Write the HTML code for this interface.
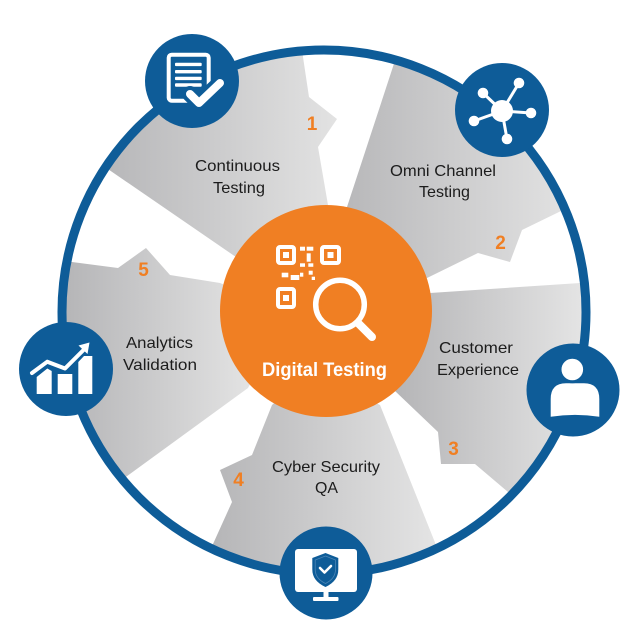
<!DOCTYPE html>
<html>
<head>
<meta charset="utf-8">
<style>
  html,body{margin:0;padding:0;background:#fff;}
  svg{display:block;}
  .lbl{font-family:"Liberation Sans",sans-serif;font-size:16px;fill:#1c1c1c;}
  .num{font-family:"Liberation Sans",sans-serif;font-size:19px;font-weight:bold;fill:#f07f23;}
</style>
</head>
<body>
<svg width="639" height="644" viewBox="0 0 639 644" xmlns="http://www.w3.org/2000/svg">
  <defs>
    <clipPath id="ringclip"><circle cx="324" cy="312" r="262"/></clipPath>
    <linearGradient id="g1" gradientUnits="userSpaceOnUse" x1="100" y1="0" x2="335" y2="0">
      <stop offset="0" stop-color="#b6b6b8"/><stop offset="1" stop-color="#e2e2e2"/>
    </linearGradient>
    <linearGradient id="g2" gradientUnits="userSpaceOnUse" x1="335" y1="0" x2="590" y2="0">
      <stop offset="0" stop-color="#b6b6b8"/><stop offset="1" stop-color="#e6e6e6"/>
    </linearGradient>
    <linearGradient id="g3" gradientUnits="userSpaceOnUse" x1="400" y1="0" x2="590" y2="0">
      <stop offset="0" stop-color="#b6b6b8"/><stop offset="1" stop-color="#e6e6e6"/>
    </linearGradient>
    <linearGradient id="g4" gradientUnits="userSpaceOnUse" x1="205" y1="0" x2="445" y2="0">
      <stop offset="0" stop-color="#b4b4b6"/><stop offset="1" stop-color="#e6e6e6"/>
    </linearGradient>
    <linearGradient id="g5" gradientUnits="userSpaceOnUse" x1="60" y1="0" x2="255" y2="0">
      <stop offset="0" stop-color="#b4b4b6"/><stop offset="1" stop-color="#e4e4e4"/>
    </linearGradient>
  </defs>

  <!-- Petals -->
  <g clip-path="url(#ringclip)">
    <polygon fill="url(#g1)" points="300,300 233,255 70,143 70,15 299,15 303,57 309,97 337,119 318,147 328,205 326,260"/>
    <polygon fill="url(#g2)" points="330,260 347,207 405,30 625,30 625,172 600,192 559,212 522,230 510,262 478,253 427,278 380,290"/>
    <polygon fill="url(#g3)" points="360,300 430,293 625,280 625,560 540,519 508,492 475,464 441,464 438,432 395,391 360,340"/>
    <polygon fill="url(#g4)" points="330,380 380,405 450,580 450,640 195,640 200,573 213,544 232,502 220,470 252,455 272,405 300,380"/>
    <polygon fill="url(#g5)" points="280,330 248,388 90,503 15,503 15,258 40,258 72,262 118,268 146,248 170,275 220,283 260,300"/>
  </g>

  <!-- Outer ring -->
  <circle cx="324" cy="312" r="262" fill="none" stroke="#0e5c98" stroke-width="9"/>

  <!-- Center orange circle -->
  <circle cx="326" cy="311" r="106" fill="#f07f23"/>

  <!-- QR + magnifier icon -->
  <g fill="#fff">
    <rect x="278" y="247" width="16" height="16" rx="2" fill="none" stroke="#fff" stroke-width="4"/>
    <rect x="283" y="252" width="6" height="6"/>
    <rect x="322" y="247" width="17" height="16" rx="2" fill="none" stroke="#fff" stroke-width="4"/>
    <rect x="327.5" y="252" width="6" height="6"/>
    <rect x="278" y="289" width="16" height="18" rx="2" fill="none" stroke="#fff" stroke-width="4"/>
    <rect x="283" y="295" width="6" height="6"/>
    <rect x="300" y="246.7" width="5" height="4"/>
    <rect x="306.7" y="246.7" width="6.6" height="4"/>
    <rect x="306.7" y="253.3" width="4" height="8.4"/>
    <rect x="300" y="263.3" width="5" height="3.5"/>
    <rect x="308.3" y="263.3" width="5" height="3.5"/>
    <rect x="281.7" y="272.7" width="6.6" height="4.6"/>
    <rect x="290.7" y="275" width="8.6" height="5"/>
    <rect x="300" y="272.7" width="3.3" height="4"/>
    <rect x="308.7" y="270.7" width="4" height="4"/>
    <rect x="311.7" y="276.7" width="3.3" height="3.3"/>
  </g>
  <circle cx="340" cy="304.5" r="24.3" fill="none" stroke="#f07f23" stroke-width="11"/>
  <circle cx="340" cy="304.5" r="24.3" fill="none" stroke="#fff" stroke-width="5.5"/>
  <line x1="358" y1="323" x2="372" y2="337" stroke="#fff" stroke-width="8" stroke-linecap="round"/>

  <text x="262" y="376" font-family="Liberation Sans, sans-serif" font-size="19" font-weight="bold" fill="#fff" textLength="125" lengthAdjust="spacingAndGlyphs">Digital Testing</text>

  <!-- Icon circles -->
  <g fill="#0e5c98">
    <circle cx="192" cy="81" r="47"/>
    <circle cx="502" cy="110" r="47"/>
    <circle cx="573" cy="390" r="46.5"/>
    <circle cx="326" cy="573" r="46.5"/>
    <circle cx="66" cy="369" r="47"/>
  </g>

  <!-- Doc icon -->
  <rect x="168.7" y="54.7" width="40" height="46" rx="3" fill="none" stroke="#fff" stroke-width="4"/>
  <g fill="#fff">
    <rect x="175" y="62.7" width="26.7" height="3.4" rx="1"/>
    <rect x="175" y="70" width="26.7" height="3.4" rx="1"/>
    <rect x="175" y="76.7" width="26.7" height="3.4" rx="1"/>
    <rect x="175" y="83.3" width="26.7" height="3.4" rx="1"/>
  </g>
  <polyline points="190,94 199,103 220,83" fill="none" stroke="#0e5c98" stroke-width="16" stroke-linecap="round" stroke-linejoin="round"/>
  <polyline points="190,94 199,103 220,83" fill="none" stroke="#fff" stroke-width="8" stroke-linecap="round" stroke-linejoin="round"/>

  <!-- Network icon -->
  <g stroke="#fff" stroke-width="3">
    <line x1="502" y1="111" x2="519" y2="83"/>
    <line x1="502" y1="111" x2="483" y2="93"/>
    <line x1="502" y1="111" x2="531" y2="113"/>
    <line x1="502" y1="111" x2="474" y2="121"/>
    <line x1="502" y1="111" x2="507" y2="139"/>
  </g>
  <g fill="#fff">
    <circle cx="502" cy="111" r="11"/>
    <circle cx="519" cy="83" r="5.3"/>
    <circle cx="483" cy="93" r="5.3"/>
    <circle cx="531" cy="113" r="5.3"/>
    <circle cx="474" cy="121" r="5.3"/>
    <circle cx="507" cy="139" r="5.3"/>
  </g>

  <!-- Person icon -->
  <path d="M550.7,416.7 L550.7,399 Q550.7,383.3 566,383.3 L584,383.3 Q599.3,383.3 599.3,399 L599.3,416.7 Q575,413 550.7,416.7 Z" fill="#fff"/>
  <circle cx="572.3" cy="369.5" r="12.3" fill="#fff" stroke="#0e5c98" stroke-width="3"/>

  <!-- Monitor icon -->
  <rect x="295" y="549" width="62" height="43" rx="3" fill="#fff"/>
  <rect x="323.5" y="591" width="5" height="7" fill="#fff"/>
  <rect x="313" y="597" width="25.5" height="4" rx="1" fill="#fff"/>
  <path d="M325.5,553 L338.3,558 L338.3,569.5 Q338.3,581 325.5,587 Q312.3,581 312.3,569.5 L312.3,558 Z" fill="#0e5c98"/>
  <path d="M325.5,556 L335.5,560 L335.5,569.5 Q335.5,578.5 325.5,583.5 Q315.2,578.5 315.2,569.5 L315.2,560 Z" fill="none" stroke="#4d86b6" stroke-width="0.8"/>
  <polyline points="320,568 324.5,572.5 331,566" fill="none" stroke="#fff" stroke-width="2.6" stroke-linecap="round" stroke-linejoin="round"/>

  <!-- Chart icon -->
  <g fill="#fff">
    <polygon points="36.7,394 36.7,377 47.3,368.5 51.7,371 51.7,394"/>
    <rect x="57.7" y="374" width="14.6" height="20"/>
    <polygon points="78.3,394 78.3,362 84,356 92.3,356 92.3,394"/>
    <polygon points="89.5,342.5 78.5,345.5 87.5,354"/>
  </g>
  <polyline points="32,373 47.3,361.7 65,368.5 84,349.5" fill="none" stroke="#fff" stroke-width="4" stroke-linejoin="round" stroke-linecap="round"/>

  <!-- Labels -->
  <text class="lbl" x="195" y="171" textLength="85" lengthAdjust="spacingAndGlyphs">Continuous</text>
  <text class="lbl" x="213" y="193" textLength="52" lengthAdjust="spacingAndGlyphs">Testing</text>
  <text class="lbl" x="390" y="176" textLength="106" lengthAdjust="spacingAndGlyphs">Omni Channel</text>
  <text class="lbl" x="419" y="197" textLength="51" lengthAdjust="spacingAndGlyphs">Testing</text>
  <text class="lbl" x="439" y="353" textLength="74" lengthAdjust="spacingAndGlyphs">Customer</text>
  <text class="lbl" x="437" y="375" textLength="82" lengthAdjust="spacingAndGlyphs">Experience</text>
  <text class="lbl" x="272" y="472" textLength="108" lengthAdjust="spacingAndGlyphs">Cyber Security</text>
  <text class="lbl" x="315" y="493" textLength="23" lengthAdjust="spacingAndGlyphs">QA</text>
  <text class="lbl" x="126" y="348" textLength="67" lengthAdjust="spacingAndGlyphs">Analytics</text>
  <text class="lbl" x="123" y="370" textLength="74" lengthAdjust="spacingAndGlyphs">Validation</text>

  <!-- Numbers -->
  <text class="num" x="312" y="130" text-anchor="middle">1</text>
  <text class="num" x="500.5" y="249" text-anchor="middle">2</text>
  <text class="num" x="453.5" y="455" text-anchor="middle">3</text>
  <text class="num" x="238.5" y="486" text-anchor="middle">4</text>
  <text class="num" x="143.5" y="276" text-anchor="middle">5</text>
</svg>
</body>
</html>
